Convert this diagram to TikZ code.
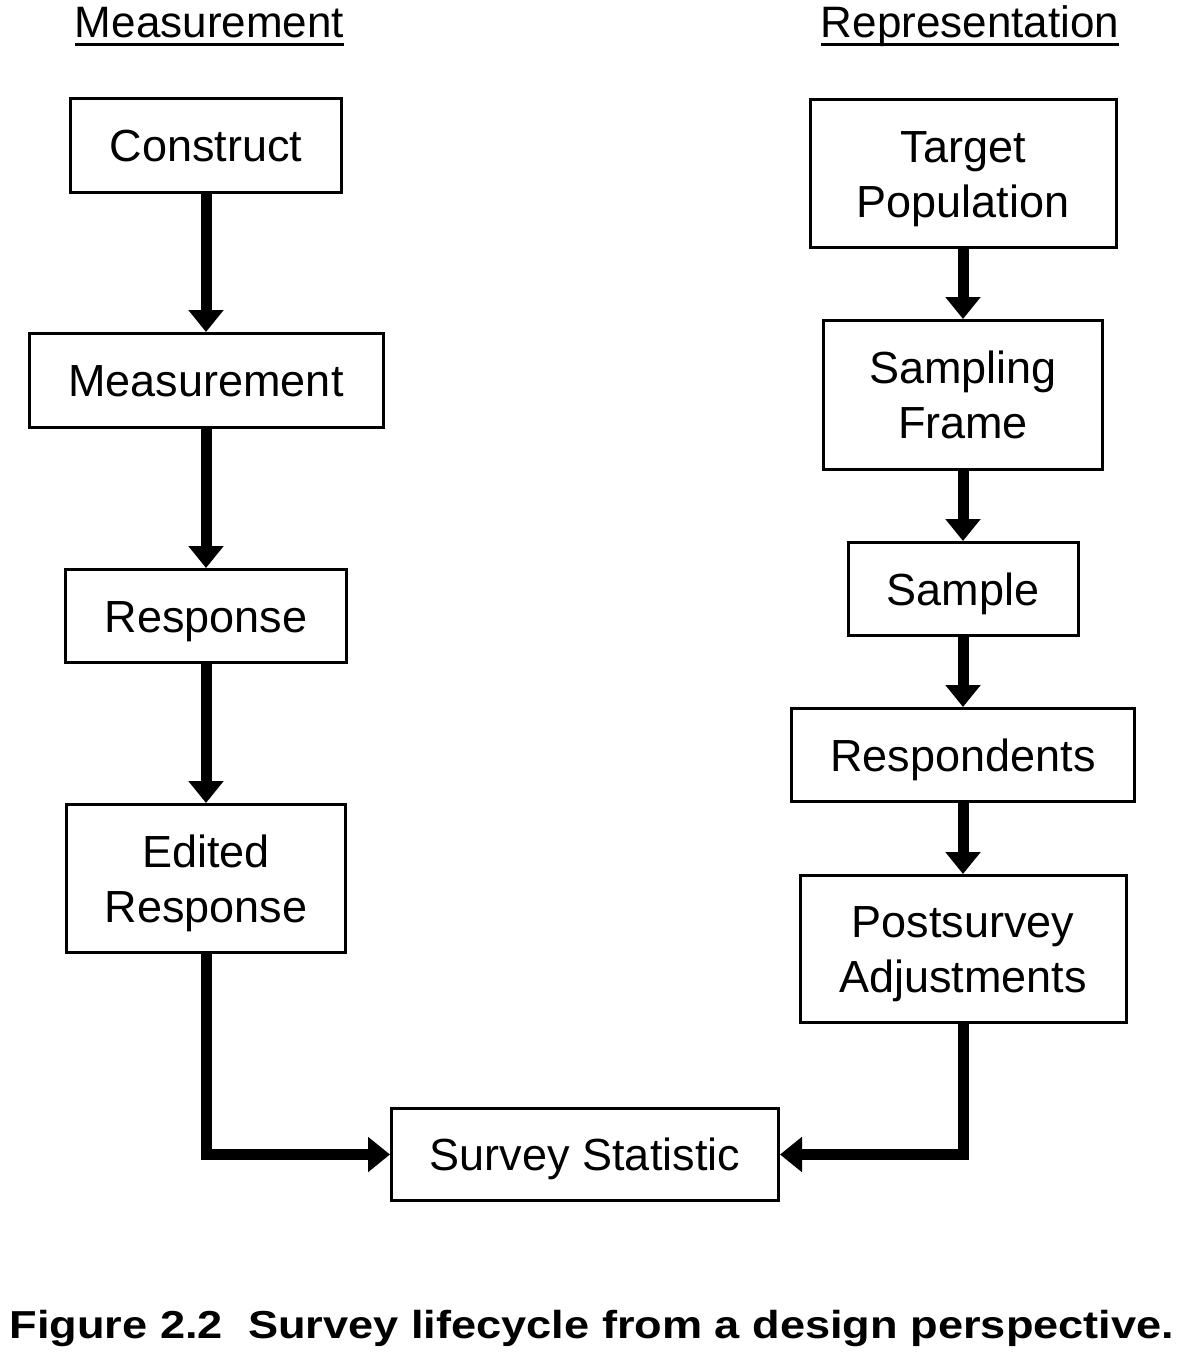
\documentclass[tikz,border=0pt]{standalone}
\usepackage{fontspec}
\setmainfont{Liberation Sans}
\usetikzlibrary{arrows.meta}
\newcommand{\twoline}[2]{\raisebox{0pt}[32pt][55pt]{\vtop{\halign{\hfil##\hfil\cr#1\cr#2\cr}}}}
\begin{document}
\begin{tikzpicture}[x=1pt,y=-1pt,
  box/.style={draw, line width=3pt, fill=white, font=\fontsize{45}{55}\selectfont, inner sep=0pt},
  one/.style={text height=32pt, text depth=0pt},
  arr/.style={line width=11pt, line join=miter, -{Triangle[width=34pt,length=22pt]}},
  head/.style={font=\fontsize{44}{55}\selectfont, inner sep=0pt, anchor=base},
  uline/.style={line width=3pt}]
\useasboundingbox (0,0) rectangle (1184,1358);

% headings
\node[head] (hm) at (209.5,37) {Measurement};
\node[head] (hr) at (970,37) {Representation};
\draw[uline] ([yshift=-7pt]hm.base west) -- ([yshift=-7pt]hm.base east);
\draw[uline] ([yshift=-7pt]hr.base west) -- ([yshift=-7pt]hr.base east);

% measurement column
\node[box, one, minimum width=271pt, minimum height=94pt] (construct) at (206,145.5) {Construct};
\node[box, one, minimum width=354pt, minimum height=94pt] (measurement) at (206,380.5) {Measurement};
\node[box, one, minimum width=281pt, minimum height=93pt] (response) at (206,616) {Response};
\node[box, minimum width=279pt, minimum height=148pt] (edited) at (206,878.5) {\twoline{Edited}{Response}};

% representation column
\node[box, minimum width=306pt, minimum height=148pt] (target) at (963,173.5) {\twoline{Target}{Population}};
\node[box, minimum width=279pt, minimum height=149pt] (frame) at (963,395) {\twoline{Sampling}{Frame}};
\node[box, one, minimum width=230pt, minimum height=93pt] (sample) at (963,589) {Sample};
\node[box, one, minimum width=343pt, minimum height=93pt] (resp) at (963,755) {Respondents};
\node[box, minimum width=326pt, minimum height=147pt] (post) at (963,949) {\twoline{Postsurvey}{Adjustments}};

% statistic
\node[box, one, minimum width=387pt, minimum height=92pt] (stat) at (585,1154.5) {Survey Statistic};

% arrows
\draw[arr] (construct.south) -- (measurement.north);
\draw[arr] (measurement.south) -- (response.north);
\draw[arr] (response.south) -- (edited.north);
\draw[arr] (target.south) -- (frame.north);
\draw[arr] (frame.south) -- (sample.north);
\draw[arr] (sample.south) -- (resp.north);
\draw[arr] (resp.south) -- (post.north);
\draw[arr] (edited.south) |- (stat.west);
\draw[arr] (post.south) |- (stat.east);

% caption
\node[font=\bfseries\fontsize{39}{48}\selectfont, anchor=base, inner sep=0pt] (cap) at (592,1338)
  {\scalebox{1.158}[1]{Figure 2.2\hspace{0.556em}Survey lifecycle from a design perspective.}};
\end{tikzpicture}
\end{document}
